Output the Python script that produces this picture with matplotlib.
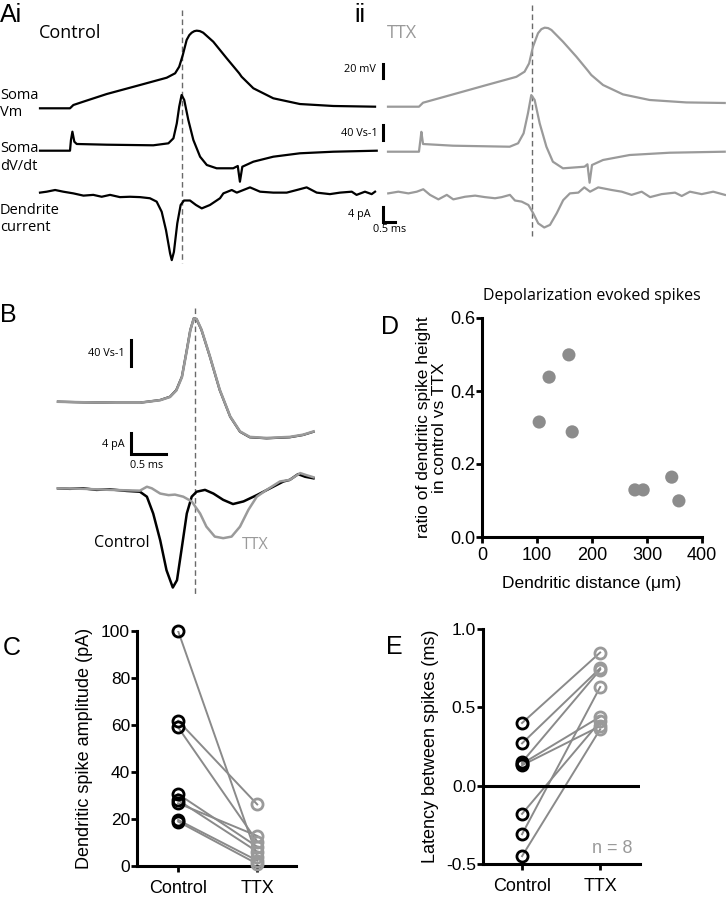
import matplotlib
matplotlib.use("Agg")
import matplotlib.pyplot as plt

plt.rcParams['font.family'] = ['Liberation Sans', 'DejaVu Sans']

GREY = '#9a9a9a'
LINE_GREY = '#8a8a8a'
TRACE_FONT = ['Open Sans', 'Liberation Sans', 'DejaVu Sans']
NARROW = ['Liberation Sans Narrow', 'Liberation Sans', 'DejaVu Sans']

# ---- A: example traces (time in ms) ----
ai_t_vm = [0, 1.25, 1.39, 1.80, 2.78, 4.17, 5.28, 5.63, 5.80, 5.95, 6.11, 6.22, 6.32, 6.43,
           6.53, 6.66, 6.80, 7.22, 7.78, 8.30, 8.40, 8.89, 9.72, 10.83, 12.22, 13.96]
ai_vm = [-75, -75, -70.3, -65.6, -54.6, -41.7, -31.3, -25, -15.6, 1.1, 22.6, 29.5, 33, 35.2,
         35.9, 35.3, 33, 20.1, -3.6, -25, -29.9, -46.4, -60.7, -68.9, -71.7, -72.7]

aii_t_vm = [0, 1.29, 1.46, 2.71, 4.10, 5.35, 5.69, 5.88, 6.04, 6.25, 6.39, 6.53, 6.67, 6.81,
            7.29, 7.85, 8.33, 8.47, 8.96, 9.79, 10.90, 12.43, 14.03]
aii_vm = [-75, -75, -69.3, -57.4, -44.1, -32.3, -25, -13.1, 10.7, 29.9, 35.8, 37.9, 37.3, 34.6,
          17.9, -3.6, -23.6, -29.7, -44, -57.4, -65.4, -68.9, -69.7]

ai_t_dvdt = [0, 1.25, 1.29, 1.35, 1.43, 1.53, 2.78, 4.72, 5.35, 5.56, 5.70, 5.80, 5.90,
             6.01, 6.18, 6.39, 6.67, 6.95, 7.36, 8.05, 8.24, 8.33, 8.43, 8.89, 9.72,
             10.83, 12.22, 14.03]
ai_dvdt = [0, 0, 28.5, 50.7, 24, 17.9, 16, 14.4, 19.7, 33.1, 73, 117.3, 148.5,
           135.2, 81.9, 28.5, -16, -38.1, -46.9, -46.9, -40.8, -82.7, -42.7, -29.3, -16,
           -6.9, -2.7, 0]

aii_t_dvdt = [0, 1.29, 1.35, 1.39, 1.46, 2.71, 5.07, 5.42, 5.65, 5.83, 5.97, 6.11, 6.32,
              6.60, 6.87, 7.29, 8.19, 8.31, 8.40, 8.50, 8.96, 10.07, 11.74, 14.03]
aii_dvdt = [0, 0, 31, 53, 20.5, 16, 13.3, 22.4, 49, 102, 151, 138, 75.7,
            13.3, -26.7, -44.3, -40, -33.6, -82.7, -35.5, -22.1, -8.8, -2.7, 0]

ai_t_i = [0.00, 0.28, 0.63, 0.97, 1.39, 1.81, 2.22, 2.57, 2.92, 3.33, 3.75, 4.17, 4.58,
          4.86, 5.07, 5.25, 5.42, 5.49, 5.58, 5.72, 5.86, 6.00, 6.25, 6.50, 6.74, 7.08,
          7.50, 7.64, 7.99, 8.20, 8.75, 9.17, 9.72, 10.28, 10.70, 11.11, 11.53, 12.08,
          12.50, 12.99, 13.19, 13.54, 13.82, 13.96]
ai_i = [0.1, 0.35, 0.8, 0.35, -0.1, -0.7, -0.5, -1.0, -0.5, -1.1, -1.0, -1.1, -1.4,
        -2.3, -5.0, -9.9, -16.1, -17.9, -15.7, -8.1, -3.2, -2.0, -2.0, -3.2, -4.1, -3.2,
        -1.4, -0.1, 0.8, 0.1, 1.5, 0.35, 0.1, 0.1, 0.8, 1.5, 0.1, -0.3,
        0.1, 0.35, -0.5, 0.35, -0.3, 0.35]

aii_t_i = [0.01, 0.43, 0.85, 1.20, 1.47, 1.75, 2.10, 2.45, 2.72, 3.21, 3.63, 4.04, 4.46,
           4.74, 5.08, 5.29, 5.57, 5.85, 6.05, 6.26, 6.51, 6.75, 7.03, 7.30, 7.58, 7.93,
           8.18, 8.42, 8.76, 9.32, 9.74, 10.15, 10.57, 10.92, 11.40, 11.96, 12.24, 12.58,
           13.07, 13.55, 14.04]
aii_i = [-0.1, 0.35, -0.1, 0.35, 1.0, -0.5, -1.7, -0.5, -1.7, -1.0, -0.7, -1.1, -1.4,
         -1.1, -0.5, -2.0, -2.3, -3.2, -5.4, -8.1, -9.2, -8.5, -5.4, -1.9, -0.1, 0.1,
         1.5, 0.35, 1.5, 0.8, 0.35, -0.5, 0.35, -1.1, -0.3, 0.1, -0.8, 0.35,
         -0.3, 0.35, -0.5]

# ---- B: overlay of control and TTX ----
b_t_dvdt = [0.00, 0.36, 0.84, 1.17, 1.46, 1.60, 1.69, 1.77, 1.84, 1.89, 1.94, 1.98, 2.05,
            2.17, 2.31, 2.46, 2.60, 2.74, 2.98, 3.31, 3.50, 3.65]
b_dvdt_ctrl = [1.2, 0.3, -0.3, -0.3, 3.8, 8.9, 19.2, 39.7, 80.8, 111.5, 129.5, 128, 111.5,
               70.5, 19.2, -21.9, -45, -53.5, -55.1, -53.5, -50, -45]
b_dvdt_ttx = [1.2, 0.3, -0.3, -0.3, 3.6, 8.5, 18.5, 39.0, 80.0, 111.0, 129.5, 128.5, 112.0,
              71.0, 19.8, -21.5, -44.5, -53.0, -54.6, -53.0, -49.6, -44.6]

b_t_i_ctrl = [0.00, 0.17, 0.36, 0.55, 0.74, 0.98, 1.17, 1.27, 1.36, 1.46, 1.55, 1.64, 1.70,
              1.77, 1.84, 1.91, 1.98, 2.10, 2.22, 2.36, 2.50, 2.65, 2.84, 3.03, 3.22,
              3.31, 3.43, 3.53, 3.65]
b_i_ctrl = [0, -0.1, 0, -0.3, -0.2, -0.5, -0.65, -1.6, -4.8, -9.9, -15.6, -18.9, -17.5,
            -11.2, -4.8, -1.6, -0.65, -0.3, -1.0, -2.2, -3.0, -2.5, -1.3, 0, 1.3,
            1.6, 2.7, 2.2, 1.9]
b_t_i_ttx = [0.00, 0.36, 0.74, 1.17, 1.27, 1.34, 1.46, 1.58, 1.67, 1.79, 1.91, 2.03, 2.12,
             2.24, 2.36, 2.48, 2.60, 2.72, 2.84, 2.98, 3.17, 3.31, 3.46, 3.55, 3.65]
b_i_ttx = [0, -0.1, -0.3, -0.45, 0.3, 0, -1.0, -1.3, -1.2, -1.6, -2.5, -4.8, -7.3,
           -9.2, -9.5, -9.2, -7.3, -4.1, -1.6, -0.3, 1.3, 1.6, 2.9, 2.5, 2.1]

# ---- C: dendritic spike amplitude (pA), paired ----
c_control = [100, 61.8, 59.0, 30.6, 28.0, 26.7, 19.6, 18.9]
c_ttx = [4.0, 26.2, 10.4, 8.2, 6.1, 12.8, 2.3, 0.9]

# ---- D: ratio vs dendritic distance ----
d_distance = [104, 122, 158, 164, 278, 293, 345, 358]
d_ratio = [0.315, 0.438, 0.499, 0.288, 0.129, 0.129, 0.164, 0.099]

# ---- E: latency between spikes (ms), paired ----
e_control = [0.40, 0.27, 0.15, 0.14, 0.13, -0.18, -0.31, -0.45]
e_ttx = [0.85, 0.75, 0.74, 0.44, 0.38, 0.41, 0.63, 0.36]

W, H = 726, 899
fig = plt.figure(figsize=(W / 100, H / 100), dpi=100)

ov = fig.add_axes([0, 0, 1, 1])
ov.set_xlim(0, W); ov.set_ylim(H, 0); ov.axis('off')


def box(left, top, right, bottom):
    return fig.add_axes([left / W, 1 - bottom / H, (right - left) / W, (bottom - top) / H])


def trace_axes(ox, oy, sx, sy, xlim, ylim):
    # (ox, oy): pixel of data (0, 0); sx, sy: pixels per unit
    ax = box(ox + xlim[0] * sx, oy - ylim[1] * sy, ox + xlim[1] * sx, oy - ylim[0] * sy)
    ax.set_xlim(xlim); ax.set_ylim(ylim); ax.axis('off')
    return ax


LW = 1.6
SX = 24
# Ai control
a_vm = trace_axes(40, 55.8, SX, 0.7, (-0.5, 14.5), (-90, 55))
a_dv = trace_axes(40, 150.7, SX, 0.375, (-0.5, 14.5), (-100, 170))
a_i = trace_axes(40, 193, SX, 3.75, (-0.5, 14.5), (-20, 5))
a_vm.plot(ai_t_vm, ai_vm, color='k', lw=LW)
a_dv.plot(ai_t_dvdt, ai_dvdt, color='k', lw=LW)
a_i.plot(ai_t_i, ai_i, color='k', lw=LW)

# Aii TTX
b_vm = trace_axes(388, 54.2, SX, 0.7, (-0.5, 14.5), (-90, 55))
b_dv = trace_axes(388, 151.7, SX, 0.375, (-0.5, 14.5), (-100, 170))
b_i = trace_axes(388, 193, SX, 3.75, (-0.5, 14.5), (-20, 5))
b_vm.plot(aii_t_vm, aii_vm, color=GREY, lw=LW)
b_dv.plot(aii_t_dvdt, aii_dvdt, color=GREY, lw=LW)
b_i.plot(aii_t_i, aii_i, color=GREY, lw=LW)

# scale bars (Aii)
b_vm.plot([-0.21, -0.21], [-34, -14], color='k', lw=2.2, clip_on=False)
b_dv.plot([-0.21, -0.21], [31.2, 71.2], color='k', lw=2.2, clip_on=False)
b_i.plot([-0.21, -0.21, 0.29], [-3.7, -7.7, -7.7], color='k', lw=2.2, clip_on=False,
         solid_joinstyle='miter')

# B overlay
bd = trace_axes(58, 402.5, 70, 0.65, (-0.1, 3.8), (-80, 150))
bi = trace_axes(58, 488.3, 70, 5.25, (-0.1, 3.8), (-22, 5))
bd.plot(b_t_dvdt, b_dvdt_ctrl, color='k', lw=1.6)
bd.plot(b_t_dvdt, b_dvdt_ttx, color=GREY, lw=1.9)
bi.plot(b_t_i_ctrl, b_i_ctrl, color='k', lw=1.8)
bi.plot(b_t_i_ttx, b_i_ttx, color=GREY, lw=1.8)
bd.plot([1.04, 1.04], [56.2, 96.2], color='k', lw=2.2, clip_on=False)
bi.plot([1.04, 1.04, 1.54], [10.5, 6.5, 6.5], color='k', lw=2.2, clip_on=False,
        solid_joinstyle='miter')

# dashed alignment lines
for x, y0, y1 in [(182, 10, 263), (532, 5, 236), (195, 308, 594)]:
    ov.plot([x, x], [y0, y1], color='#6a6a6a', lw=1.0, dashes=(4, 2.5))


def tx(x, y, s, size, ha='left', color='k', family=TRACE_FONT, **kw):
    ov.text(x, y, s, fontsize=size, ha=ha, va='center', color=color, family=family, **kw)


for x, y, s in [(0, 15, 'Ai'), (354, 15, 'ii'), (0, 315, 'B'), (3, 648, 'C'),
                (381, 327, 'D'), (386, 647, 'E')]:
    tx(x, y, s, 18, family=['Liberation Sans', 'DejaVu Sans'])

tx(39, 33, 'Control', 13)
tx(387, 33, 'TTX', 13, color=GREY)
tx(0, 104, 'Soma\nVm', 10.5, linespacing=1.2)
tx(0, 157.5, 'Soma\ndV/dt', 10.5, linespacing=1.2)
tx(0, 219, 'Dendrite\ncurrent', 10.5, linespacing=1.2)
tx(376, 70, '20 mV', 7.8, ha='right')
tx(378, 133, '40 Vs-1', 7.8, ha='right')
tx(371, 214, '4 pA', 7.8, ha='right')
tx(390, 229, '0.5 ms', 7.8, ha='center')

tx(125, 353, '40 Vs-1', 7.8, ha='right')
tx(125, 444, '4 pA', 7.8, ha='right')
tx(130, 466, '0.5 ms', 7.8)
tx(94, 543, 'Control', 11.5)
tx(242, 545, 'TTX', 11.5, color=GREY)


def style_axes(ax):
    for s in ('top', 'right'):
        ax.spines[s].set_visible(False)
    for s in ('left', 'bottom'):
        ax.spines[s].set_linewidth(2.2)
    ax.tick_params(width=2, length=4, labelsize=13, pad=1)


# C
ax_c = box(137, 631, 296, 866)
ax_c.set_xlim(-0.52, 1.49); ax_c.set_ylim(0, 100)
for c, t in zip(c_control, c_ttx):
    ax_c.plot([0, 1], [c, t], color=LINE_GREY, lw=1.4, zorder=1)
ax_c.plot([0] * len(c_control), c_control, 'o', mfc='none', mec='k', ms=8, mew=2, zorder=3,
          clip_on=False)
ax_c.plot([1] * len(c_ttx), c_ttx, 'o', mfc='none', mec=GREY, ms=8, mew=2, zorder=3,
          clip_on=False)
style_axes(ax_c)
ax_c.set_yticks([0, 20, 40, 60, 80, 100], ['0', '20', '40', '60', '80', '100'],
                family=NARROW, fontsize=12.5)
ax_c.set_xticks([0, 1], ['Control', 'TTX'], family=NARROW, fontsize=13)
ax_c.tick_params(axis='x', pad=6)
ax_c.set_ylabel('Dendritic spike amplitude (pA)', family=NARROW, fontsize=13, labelpad=6)

# D
ax_d = box(482, 318, 702, 537)
ax_d.set_xlim(0, 400); ax_d.set_ylim(0, 0.6)
ax_d.scatter(d_distance, d_ratio, s=90, color='#8c8c8c', edgecolors='none', zorder=3,
             clip_on=False)
style_axes(ax_d)
ax_d.set_xticks([0, 100, 200, 300, 400], ['0', '100', '200', '300', '400'], fontsize=13)
ax_d.set_yticks([0, 0.2, 0.4, 0.6], ['0.0', '0.2', '0.4', '0.6'], fontsize=13)
ax_d.tick_params(axis='x', pad=3)
ax_d.set_xlabel('Dendritic distance (μm)', fontsize=12.5, labelpad=9)
ax_d.set_ylabel('ratio of dendritic spike height\nin control vs TTX', fontsize=12.5,
                labelpad=2, linespacing=1.1)
ax_d.set_title('Depolarization evoked spikes', fontsize=11.5, family=TRACE_FONT, pad=13)

# E
ax_e = box(483, 629, 640, 864)
ax_e.set_xlim(-0.5, 1.51); ax_e.set_ylim(-0.5, 1.0)
ax_e.axhline(0, color='k', lw=2.2)
for c, t in zip(e_control, e_ttx):
    ax_e.plot([0, 1], [c, t], color=LINE_GREY, lw=1.4, zorder=1)
ax_e.plot([0] * len(e_control), e_control, 'o', mfc='none', mec='k', ms=8, mew=2, zorder=3,
          clip_on=False)
ax_e.plot([1] * len(e_ttx), e_ttx, 'o', mfc='none', mec=GREY, ms=8, mew=2, zorder=3,
          clip_on=False)
style_axes(ax_e)
ax_e.set_yticks([-0.5, 0, 0.5, 1.0], ['-0.5', '0.0', '0.5', '1.0'], family=NARROW,
                fontsize=12.5)
ax_e.set_xticks([0, 1], ['Control', 'TTX'], family=NARROW, fontsize=13)
ax_e.tick_params(axis='x', pad=6)
ax_e.set_ylabel('Latency between spikes (ms)', family=NARROW, fontsize=13, labelpad=5)
ax_e.text(1.15, -0.4, 'n = 8', fontsize=13, color=GREY, family=NARROW, ha='center',
          va='center')

fig.savefig('out.png', dpi=100)
